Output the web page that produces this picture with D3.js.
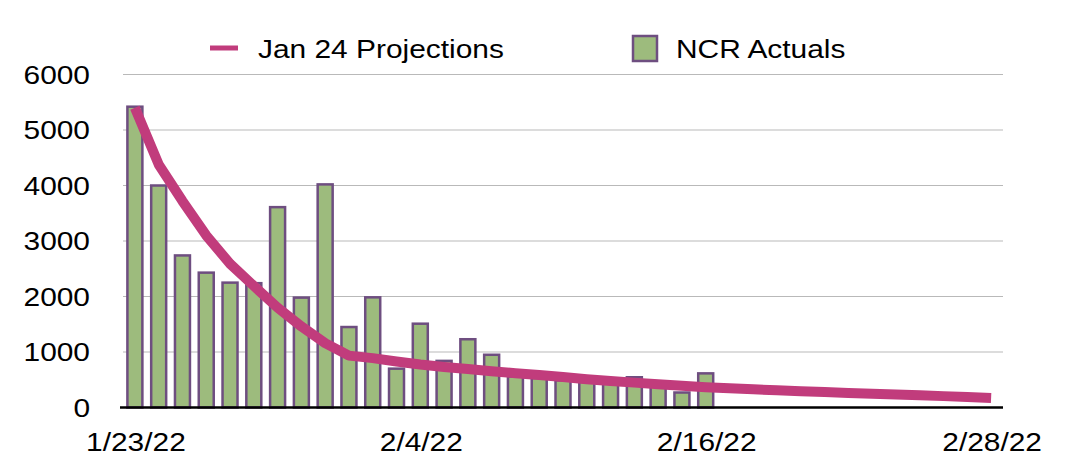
<!DOCTYPE html>
<html>
<head>
<meta charset="utf-8">
<script src="https://cdn.jsdelivr.net/npm/d3@7"></script>
<style>
  html, body { margin: 0; padding: 0; background: #fff; }
  svg { display: block; }
  text { font-family: "Liberation Sans", Arial, Helvetica, sans-serif; font-size: 26px; fill: #000; }
</style>
</head>
<body>
<svg id="chart" width="1074" height="476"></svg>
<script>
// ---- data ----
const dates = ["1/23/22","1/24/22","1/25/22","1/26/22","1/27/22","1/28/22","1/29/22","1/30/22","1/31/22",
  "2/1/22","2/2/22","2/3/22","2/4/22","2/5/22","2/6/22","2/7/22","2/8/22","2/9/22","2/10/22","2/11/22",
  "2/12/22","2/13/22","2/14/22","2/15/22","2/16/22","2/17/22","2/18/22","2/19/22","2/20/22","2/21/22",
  "2/22/22","2/23/22","2/24/22","2/25/22","2/26/22","2/27/22","2/28/22"];
const projections = [5400, 4380, 3720, 3100, 2590, 2190, 1800, 1460, 1160, 935, 890, 830, 775, 730,
  692, 655, 618, 585, 548, 510, 478, 448, 418, 390, 364, 345, 327, 310, 294, 278, 262, 248, 234, 220,
  205, 190, 172];
const actuals = [5420, 4000, 2740, 2430, 2250, 2240, 3610, 1980, 4020, 1450, 1985, 700, 1510, 840,
  1230, 950, 560, 530, 490, 460, 430, 545, 390, 270, 615];
const yTicks = [0, 1000, 2000, 3000, 4000, 5000, 6000];
const xTickLabels = ["1/23/22", "2/4/22", "2/16/22", "2/28/22"];
const seriesNames = ["Jan 24 Projections", "NCR Actuals"];

// ---- layout ----
const svg = d3.select("#chart");
const plot = { left: 123, right: 1003, top: 74.5, bottom: 407.5 };
const stretch = 1.15;
const lineColor = "#c13c7c";
const barFill = "#9dbb7d";
const barStroke = "#6e4e80";

const x = d3.scaleBand().domain(dates).range([plot.left, plot.right]).paddingInner(0.37).paddingOuter(0.185);
const y = d3.scaleLinear().domain([0, 6000]).range([plot.bottom, plot.top]);

function sText(g, str, px, py, anchor) {
  return g.append("text")
    .attr("text-anchor", anchor)
    .attr("transform", `translate(${px},${py}) scale(${stretch},1)`)
    .text(str);
}

// gridlines
svg.append("g").selectAll("line").data(yTicks.filter(d => d > 0)).join("line")
  .attr("x1", plot.left).attr("x2", plot.right)
  .attr("y1", d => y(d)).attr("y2", d => y(d))
  .attr("stroke", "#b9b9b9").attr("stroke-width", 1.2);

// y labels
const yl = svg.append("g");
yTicks.forEach(t => sText(yl, String(t), 90, y(t) + 9, "end"));

// bars
svg.append("g").selectAll("rect").data(actuals).join("rect")
  .attr("x", (d, i) => x(dates[i]))
  .attr("y", d => y(d))
  .attr("width", x.bandwidth())
  .attr("height", d => y(0) - y(d))
  .attr("fill", barFill)
  .attr("stroke", barStroke)
  .attr("stroke-width", 2.5);

// baseline axis
svg.append("line")
  .attr("x1", plot.left - 3).attr("x2", plot.right)
  .attr("y1", y(0)).attr("y2", y(0))
  .attr("stroke", "#000").attr("stroke-width", 2.5);

// projection line
const line = d3.line()
  .x((d, i) => x(dates[i]) + x.bandwidth() / 2)
  .y(d => y(d))
  .curve(d3.curveLinear);
svg.append("path")
  .datum(projections)
  .attr("d", line)
  .attr("fill", "none")
  .attr("stroke", lineColor)
  .attr("stroke-width", 10)
  .attr("stroke-linejoin", "round")
  .attr("stroke-linecap", "butt");

// x labels
const xl = svg.append("g");
xTickLabels.forEach(lbl => sText(xl, lbl, x(lbl) + x.bandwidth() / 2 + 1, 451, "middle"));

// legend
const lg = svg.append("g");
lg.append("line").attr("x1", 210).attr("x2", 238).attr("y1", 48).attr("y2", 48)
  .attr("stroke", lineColor).attr("stroke-width", 5);
sText(lg, seriesNames[0], 258, 58, "start");
lg.append("rect").attr("x", 633).attr("y", 36).attr("width", 24).attr("height", 25)
  .attr("fill", barFill).attr("stroke", barStroke).attr("stroke-width", 2.5);
sText(lg, seriesNames[1], 676, 58, "start");
</script>
</body>
</html>
